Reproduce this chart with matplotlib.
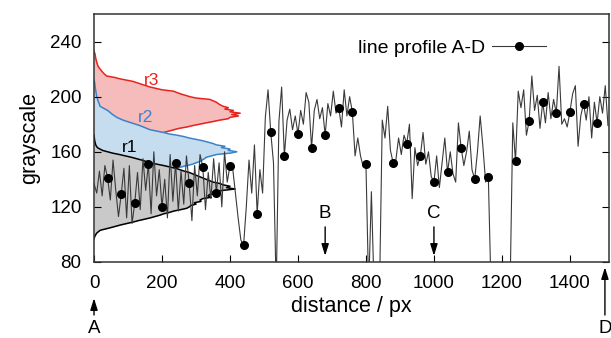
import numpy as np
import matplotlib
matplotlib.use("Agg")
from matplotlib import pyplot as plt

plt.rcParams['font.family'] = ['Liberation Sans', 'DejaVu Sans']

# line profile A-D, sampled every 8 px (values below 80 are off-scale dips)
step = 8
profile = [
    137, 130, 146, 128, 150, 141, 125, 154, 132, 113,
    129, 148, 112, 150, 108, 123, 145, 118, 155, 132,
    151, 115, 160, 128, 147, 120, 140, 112, 158, 124,
    152, 117, 146, 122, 157, 137, 110, 150, 128, 158,
    149, 118, 145, 126, 155, 130, 152, 120, 160, 138,
    150, 148, 130, 112, 96, 92, 120, 154, 130, 165,
    115, 147, 130, 185, 205, 174, 152, 60, 182, 207,
    157, 183, 191, 176, 186, 173, 190, 180, 203, 196,
    163, 190, 198, 184, 192, 172, 195, 186, 204, 188,
    192, 178, 205, 186, 200, 189, 157, 170, 157, 149,
    151, 60, 131, 60, 60, 60, 183, 170, 193, 161,
    152, 154, 170, 158, 172, 166, 180, 126, 163, 150,
    157, 174, 151, 160, 142, 138, 157, 134, 152, 170,
    145, 160, 144, 138, 181, 163, 150, 160, 175, 147,
    140, 160, 186, 164, 138, 142, 60, 60, 60, 60,
    60, 60, 60, 60, 181, 153, 204, 192, 205, 172,
    182, 215, 190, 201, 177, 196, 181, 203, 184, 198,
    188, 222, 180, 184, 178, 189, 202, 208, 164, 186,
    195, 183, 200, 170, 196, 181, 200, 188, 208, 179,
]
dist = np.arange(len(profile)) * step

# histograms of the regions (grey level -> count)
r1_level = [172, 168, 165, 163, 161, 160, 159, 158, 156, 154, 152, 150, 148, 146, 145, 143,
            141, 140, 138, 137, 136, 135, 134, 133, 132, 131, 130, 129, 128, 127, 126, 125,
            124, 123, 122, 121, 120, 119, 118, 117, 116, 115, 114, 112, 110, 109, 107, 105,
            103, 101, 99, 97]
r1_count = [0, 2, 5, 10, 25, 40, 55, 75, 110, 140, 165, 205, 240, 265, 280, 300,
            320, 330, 350, 370, 380, 400, 390, 415, 380, 350, 370, 340, 335, 345, 320, 312,
            315, 295, 300, 285, 280, 273, 255, 235, 222, 205, 194, 165, 130, 115, 80, 50,
            18, 8, 3, 0]

r2_level = [212, 210, 206, 203, 200, 197, 193, 190, 187, 185, 183, 181, 179, 177, 176, 174,
            173, 172, 171, 170, 169, 168, 167, 166, 165, 164, 163, 162, 161, 160, 159, 158,
            157, 156, 155, 154, 153, 152, 151, 150, 148, 146, 144, 142, 140, 138, 136, 134]
r2_count = [0, 2, 4, 6, 8, 12, 18, 40, 55, 67, 85, 110, 135, 155, 165, 205,
            220, 245, 265, 280, 300, 320, 335, 350, 360, 385, 375, 400, 395, 420, 400, 360,
            345, 330, 325, 318, 312, 300, 290, 273, 240, 200, 160, 120, 80, 40, 15, 0]

r3_level = [233, 231, 228, 225, 222, 220, 217, 215, 214, 213, 211, 209, 207, 205, 204, 202,
            200, 199, 198, 197, 196, 195, 194, 193, 192, 191, 190, 189, 188, 187, 186, 185,
            184, 183, 182, 181, 180, 179, 178, 177, 176, 175, 174, 172, 170, 168, 166, 164,
            162, 160]
r3_count = [0, 3, 5, 8, 12, 18, 28, 37, 60, 75, 116, 140, 165, 200, 233, 255,
            282, 300, 341, 350, 360, 365, 372, 380, 395, 385, 410, 400, 430, 405, 425, 400,
            395, 370, 351, 330, 310, 290, 273, 250, 235, 220, 205, 175, 140, 100, 60, 30,
            10, 0]

fig = plt.figure(figsize=(6.11, 3.38), dpi=100)
ax = fig.add_axes([94 / 611, 76 / 338, 515 / 611, 248 / 338])

# histograms: r3 at the back, then r2, r1 on top
ax.fill_betweenx(r3_level, 0, r3_count, color='#f6bcbc', lw=0, zorder=1)
ax.plot(r3_count, r3_level, color='#e8221c', lw=1.1, zorder=1.1)
ax.fill_betweenx(r2_level, 0, r2_count, color='#c6dcef', lw=0, zorder=1.2)
ax.plot(r2_count, r2_level, color='#3b83c6', lw=1.1, zorder=1.3)
ax.fill_betweenx(r1_level, 0, r1_count, color='#c9c9c9', lw=0, zorder=1.4)
ax.plot(r1_count, r1_level, color='black', lw=1.1, zorder=1.5)

ax.text(170, 212, 'r3', color='#e8221c', fontsize=12.5, ha='center', va='center')
ax.text(153, 185, 'r2', color='#3b83c6', fontsize=12.5, ha='center', va='center')
ax.text(106, 163, 'r1', color='black', fontsize=12.5, ha='center', va='center')

# profile
ax.plot(dist, profile, color='#3a3a3a', lw=0.8, marker='o', ms=5.5,
        mfc='black', mec='black', markevery=(5, 5), zorder=3,
        label='line profile A-D')

leg = ax.legend(loc='center right', bbox_to_anchor=(0.893, 0.863), frameon=False,
                markerfirst=False, numpoints=1, handlelength=2.8, fontsize=14,
                borderaxespad=0, handletextpad=0.35)

# markers B and C inside the plot
arr = dict(arrowstyle='-|>,head_length=0.7,head_width=0.22', color='black', lw=1)
for lab, xp in [('B', 680), ('C', 1000)]:
    ax.annotate('', xy=(xp, 82.5), xytext=(xp, 107.5), arrowprops=arr)
    ax.text(xp, 115.5, lab, fontsize=13.5, ha='center', va='center')

# A and D below the axis
tr = ax.get_xaxis_transform()
for lab, xp, tip in [('A', 0, -0.135), ('D', 1503, -0.01)]:
    ax.annotate('', xy=(xp, tip), xytext=(xp, -0.225), xycoords=tr, textcoords=tr,
                arrowprops=arr, annotation_clip=False)
    ax.text(xp, -0.27, lab, transform=tr, fontsize=13.5, ha='center', va='center',
            clip_on=False)

ax.set_xlim(0, 1515)
ax.set_ylim(80, 260)
ax.set_xticks([0, 200, 400, 600, 800, 1000, 1200, 1400])
ax.set_yticks([80, 120, 160, 200, 240])
ax.tick_params(direction='in', right=True, length=5, labelsize=13.5, pad=9)
for s in ax.spines.values():
    s.set_linewidth(1.1)
    s.set_color('#333333')

ax.set_xlabel('distance / px', fontsize=15.5, labelpad=3)
ax.set_ylabel('grayscale', fontsize=15.5, labelpad=7)

fig.savefig('out.png', dpi=100)
